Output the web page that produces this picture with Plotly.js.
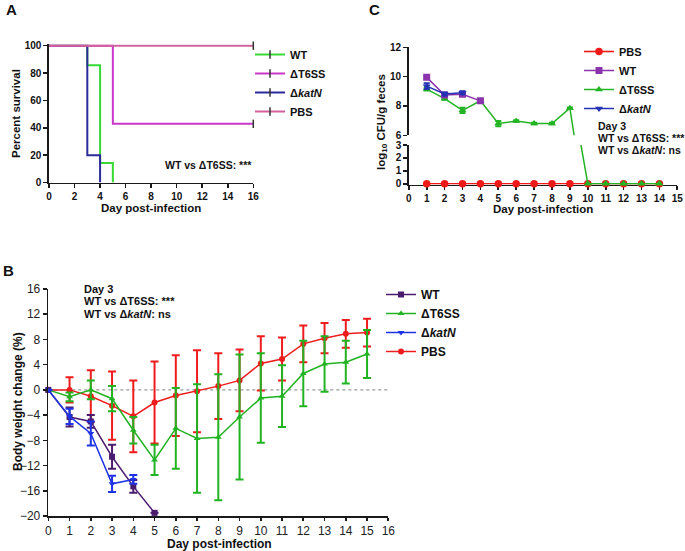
<!DOCTYPE html>
<html><head><meta charset="utf-8">
<script src="https://cdn.plot.ly/plotly-3.0.1.min.js"></script>
<style>html,body{margin:0;padding:0;background:#fff}#chart{width:685px;height:551px}</style>
</head><body><div id="chart"></div>
<script>
// ---------- Panel A: survival (Kaplan-Meier steps) ----------
const groupNames = ['WT', 'ΔT6SS', 'Δ<i>katN</i>', 'PBS'];
const survDaysWT = [0, 3, 4, 5];
const survPctWT = [100, 85.7, 14.3, 0];
const survDaysT6SS = [0, 5, 16];
const survPctT6SS = [100, 42.9, 42.9];
const survDaysKatN = [0, 3, 4];
const survPctKatN = [100, 20, 0];
const survDaysPBS = [0, 16];
const survPctPBS = [100, 100];
const survAnnot = 'WT vs ΔT6SS: ***';

// ---------- Panel B: body weight change ----------
const daysPBS_B = [0,1,2,3,4,5,6,7,8,9,10,11,12,13,14,15];
const weightPBS = [0, 0, -1.0, -2.5, -4.2, -2.0, -0.9, -0.2, 0.6, 1.5, 4.2, 4.9, 7.3, 8.2, 8.9, 9.1];
const weightPBS_sd = [0, 2.0, 4.1, 5.4, 5.7, 6.5, 6.4, 6.5, 5.2, 4.9, 4.3, 3.4, 2.9, 2.4, 2.2, 2.2];
const daysT6SS_B = [0,1,2,3,4,5,6,7,8,9,10,11,12,13,14,15];
const weightT6SS = [0, -1.1, 0.0, -1.4, -6.4, -11.1, -6.1, -7.7, -7.5, -4.3, -1.3, -1.0, 2.6, 4.1, 4.4, 5.7];
const weightT6SS_sd = [0, 0.7, 1.5, 2.0, 2.1, 2.4, 6.4, 8.6, 10.0, 9.9, 7.1, 4.9, 5.2, 4.4, 3.4, 3.8];
const daysWT_B = [0,1,2,3,4,5];
const weightWT = [0, -4.3, -5.0, -10.6, -15.3, -19.5];
const weightWT_sd = [0, 1.5, 1.0, 1.9, 1.0, 0];
const daysKatN_B = [0,1,2,3,4];
const weightKatN = [0, -4.2, -6.9, -14.9, -14.2];
const weightKatN_sd = [0, 1.2, 1.9, 1.3, 0.7];
const statTextB = ['Day 3', 'WT vs ΔT6SS: ***', 'WT vs Δ<i>katN</i>: ns'];

// ---------- Panel C: fecal CFU (broken axis) ----------
const daysPBS_C = [1,2,3,4,5,6,7,8,9,10,11,12,13,14];
const cfuPBS = [0,0,0,0,0,0,0,0,0,0,0,0,0,0];
const daysWT_C = [1,2,3,4];
const cfuWT = [9.95, 8.75, 8.8, 8.35];
const cfuWT_err = [0.1, 0.08, 0.1, 0.05];
const daysT6SS_C = [1,2,3,4,5,6,7,8,9,10,11,12,13,14];
const cfuT6SS = [9.15, 8.5, 7.7, 8.35, 6.8, 6.97, 6.8, 6.8, 7.85, 0, 0, 0, 0, 0];
const cfuT6SS_err = [0.1, 0.08, 0.18, 0.05, 0.18, 0.05, 0.05, 0.05, 0.05, 0, 0, 0, 0, 0];
const daysKatN_C = [1,2,3];
const cfuKatN = [9.35, 8.82, 8.9];
const cfuKatN_err = [0.2, 0.1, 0.1];
const namesC = ['PBS', 'WT', 'ΔT6SS', 'Δ<i>katN</i>'];
const statTextC = ['Day 3', 'WT vs ΔT6SS: ***', 'WT vs Δ<i>katN</i>: ns'];

// ---------- styling ----------
const FONT = 'Liberation Sans, Arial, Helvetica, sans-serif';
const W = 685, H = 551;
const px = v => v / W, py = v => 1 - v / H;
const colA = {WT: '#36d936', T6SS: '#c936c9', katN: '#2b2b9a', PBS: '#d2609c'};
const colB = {WT: '#4b1c6e', T6SS: '#22b322', katN: '#1f33e6', PBS: '#ee1c1c'};
const colC = {PBS: '#ee1a1a', WT: '#8b33ad', T6SS: '#22b422', katN: '#2432b3'};
const AXC = '#1a1a1a';
const LOW_MAX = 3; // upper end of the lower segment of panel C's broken axis

const traces = [];

// Panel A
function survLine(x, y, color) {
  return {x, y, xaxis: 'x', yaxis: 'y', type: 'scatter', mode: 'lines',
    line: {color, width: 2, shape: 'hv'}, showlegend: false, hoverinfo: 'skip'};
}
function censor(x, y) {
  return {x: [x[x.length - 1]], y: [y[y.length - 1]], xaxis: 'x', yaxis: 'y', type: 'scatter', mode: 'markers',
    marker: {symbol: 'line-ns-open', size: 6, color: '#333', line: {width: 1.5, color: '#333'}},
    cliponaxis: false, showlegend: false, hoverinfo: 'skip'};
}
function legProxyA(name, color, rank) {
  return {x: [null], y: [null], xaxis: 'x', yaxis: 'y', type: 'scatter', mode: 'lines+markers', name,
    line: {color, width: 2}, marker: {symbol: 'line-ns-open', size: 6, color: '#333', line: {width: 1.5, color: '#333'}},
    legend: 'legend', legendrank: rank};
}
traces.push(survLine(survDaysWT, survPctWT, colA.WT));
traces.push(survLine(survDaysKatN, survPctKatN, colA.katN));
traces.push(survLine(survDaysT6SS, survPctT6SS, colA.T6SS));
traces.push(survLine(survDaysPBS, survPctPBS, colA.PBS));
traces.push(censor(survDaysT6SS, survPctT6SS));
traces.push(censor(survDaysPBS, survPctPBS));
traces.push(legProxyA(groupNames[0], colA.WT, 1));
traces.push(legProxyA(groupNames[1], colA.T6SS, 2));
traces.push(legProxyA(groupNames[2], colA.katN, 3));
traces.push(legProxyA(groupNames[3], colA.PBS, 4));

// Panel B
function weightTrace(x, y, sd, color, symbol, name, rank) {
  return {x, y, xaxis: 'x3', yaxis: 'y4', type: 'scatter', mode: 'lines+markers', name,
    line: {color, width: 1.5}, marker: {symbol, size: 6, color},
    error_y: {type: 'data', array: sd, visible: true, color, thickness: 2, width: 4},
    legend: 'legend2', legendrank: rank, cliponaxis: false, hoverinfo: 'skip'};
}
traces.push(weightTrace(daysPBS_B, weightPBS, weightPBS_sd, colB.PBS, 'circle', groupNames[3], 4));
traces.push(weightTrace(daysT6SS_B, weightT6SS, weightT6SS_sd, colB.T6SS, 'triangle-up', groupNames[1], 2));
traces.push(weightTrace(daysWT_B, weightWT, weightWT_sd, colB.WT, 'square', groupNames[0], 1));
traces.push(weightTrace(daysKatN_B, weightKatN, weightKatN_sd, colB.katN, 'triangle-down', groupNames[2], 3));

// Panel C
function cfuTop(x, y, err, color, symbol, name, rank) {
  return {x, y, xaxis: 'x2', yaxis: 'y2', type: 'scatter', mode: 'lines+markers', name,
    line: {color, width: 1.5}, marker: {symbol, size: 7, color},
    error_y: {type: 'data', array: err, visible: true, color, thickness: 2, width: 3},
    legend: 'legend3', legendrank: rank, cliponaxis: true, hoverinfo: 'skip'};
}
// PBS stays at 0 -> lower (0-3) segment of the broken axis
traces.push({x: daysPBS_C, y: cfuPBS, xaxis: 'x2', yaxis: 'y3', type: 'scatter', mode: 'lines+markers', name: namesC[0],
  line: {color: colC.PBS, width: 1.6}, marker: {symbol: 'circle', size: 7.5, color: colC.PBS, line: {width: 0}},
  legend: 'legend3', legendrank: 1, cliponaxis: false, hoverinfo: 'skip'});
// ΔT6SS in the lower segment: the line crosses the break (clipped by the subplot) ...
traces.push({x: daysT6SS_C, y: cfuT6SS, xaxis: 'x2', yaxis: 'y3', type: 'scatter', mode: 'lines',
  line: {color: colC.T6SS, width: 1.5}, showlegend: false, hoverinfo: 'skip'});
// ... and markers only for the points that lie in the 0-3 segment
const lowIdx = cfuT6SS.map((v, i) => i).filter(i => cfuT6SS[i] <= LOW_MAX);
traces.push({x: lowIdx.map(i => daysT6SS_C[i]), y: lowIdx.map(i => cfuT6SS[i]), xaxis: 'x2', yaxis: 'y3',
  type: 'scatter', mode: 'markers', marker: {symbol: 'triangle-up', size: 7.5, color: colC.T6SS, line: {width: 0}},
  showlegend: false, cliponaxis: false, hoverinfo: 'skip'});
traces.push(cfuTop(daysT6SS_C, cfuT6SS, cfuT6SS_err, colC.T6SS, 'triangle-up', namesC[2], 3));
traces.push(cfuTop(daysWT_C, cfuWT, cfuWT_err, colC.WT, 'square', namesC[1], 2));
traces.push(cfuTop(daysKatN_C, cfuKatN, cfuKatN_err, colC.katN, 'triangle-down', namesC[3], 4));

const boldTick = {family: FONT, size: 10, color: '#111', weight: 'bold'};
const regTick = {family: FONT, size: 12, color: '#222'};
const axisBase = {showline: true, linecolor: AXC, linewidth: 1.6, ticks: 'outside', ticklen: 4,
  tickwidth: 1.6, tickcolor: AXC, showgrid: false, zeroline: false, fixedrange: true};

function ann(text, x, y, size, opts) {
  return Object.assign({text, xref: 'paper', yref: 'paper', x: px(x), y: py(y), showarrow: false,
    xanchor: 'left', yanchor: 'middle', borderpad: 0, font: {family: FONT, size, color: '#111', weight: 'bold'}}, opts || {});
}

const annotations = [
  ann('A', 5, 10, 15),
  ann('B', 2, 270, 15),
  ann('C', 368, 10, 15),
  ann('Percent survival', 16, 114, 11.5, {xanchor: 'center', textangle: -90}),
  ann('Day post-infection', 151, 208, 11.5, {xanchor: 'center'}),
  ann(survAnnot, 253, 165, 10.5, {xanchor: 'right'}),
  ann('log<sub>10</sub> CFU/g feces', 382, 122, 11.5, {xanchor: 'center', textangle: -90}),
  ann('Day post-infection', 543, 209, 11.5, {xanchor: 'center'}),
  ann(statTextC[0], 597, 126, 10.5),
  ann(statTextC[1], 597, 138, 10.5),
  ann(statTextC[2], 597, 150, 10.5),
  ann('Body weight change (%)', 18, 402, 12, {xanchor: 'center', textangle: -90}),
  ann('Day post-infection', 219, 544, 12, {xanchor: 'center'}),
  ann(statTextB[0], 83, 288.5, 11),
  ann(statTextB[1], 83, 301.3, 11),
  ann(statTextB[2], 83, 314.1, 11)
];

const legBase = {xanchor: 'left', yanchor: 'top', bgcolor: 'rgba(0,0,0,0)', borderwidth: 0,
  tracegroupgap: 0, itemclick: false, itemdoubleclick: false};

const layout = {
  width: W, height: H, margin: {l: 0, r: 0, t: 0, b: 0},
  paper_bgcolor: '#fff', plot_bgcolor: 'rgba(0,0,0,0)',
  font: {family: FONT, color: '#111'},
  showlegend: true,
  xaxis: Object.assign({}, axisBase, {domain: [px(49), px(253.3)], range: [0, 16], tick0: 0, dtick: 2, anchor: 'y', tickfont: boldTick, layer: 'below traces'}),
  yaxis: Object.assign({}, axisBase, {domain: [py(182.5), py(44.3)], range: [0, 101], tickvals: [0, 20, 40, 60, 80, 100], anchor: 'x', tickfont: boldTick}),
  xaxis2: Object.assign({}, axisBase, {domain: [px(408.8), px(677.3)], range: [0, 15], tick0: 0, dtick: 1, anchor: 'y3', tickfont: boldTick, layer: 'below traces'}),
  yaxis2: Object.assign({}, axisBase, {domain: [py(135.3), py(47.3)], range: [6, 12], tick0: 6, dtick: 2, anchor: 'x2', tickfont: boldTick}),
  yaxis3: Object.assign({}, axisBase, {domain: [py(184.5), py(145)], range: [-0.06, LOW_MAX], tickvals: [0, 1, 2, 3], anchor: 'x2', tickfont: boldTick, layer: 'below traces'}),
  xaxis3: Object.assign({}, axisBase, {domain: [px(48.3), px(388.3)], range: [0, 16], tick0: 0, dtick: 1, anchor: 'y4', ticklen: 3, tickfont: regTick}),
  yaxis4: Object.assign({}, axisBase, {domain: [py(516), py(289)], range: [-20, 16], tick0: -20, dtick: 4, anchor: 'x3', tickfont: regTick}),
  legend: Object.assign({}, legBase, {x: px(250), y: py(40), font: {family: FONT, size: 11, color: '#111', weight: 'bold'}}),
  legend2: Object.assign({}, legBase, {x: px(381), y: py(280), font: {family: FONT, size: 12, color: '#111', weight: 'bold'}}),
  legend3: Object.assign({}, legBase, {x: px(579), y: py(37), font: {family: FONT, size: 11, color: '#111', weight: 'bold'}}),
  shapes: [
    {type: 'line', xref: 'x3', yref: 'y4', x0: 0, x1: 16, y0: 0, y1: 0, layer: 'below',
      line: {color: '#9a9a9a', width: 1.3, dash: 'dot'}}
  ],
  annotations
};

Plotly.newPlot('chart', traces, layout, {staticPlot: true, displayModeBar: false});
</script>
</body></html>
